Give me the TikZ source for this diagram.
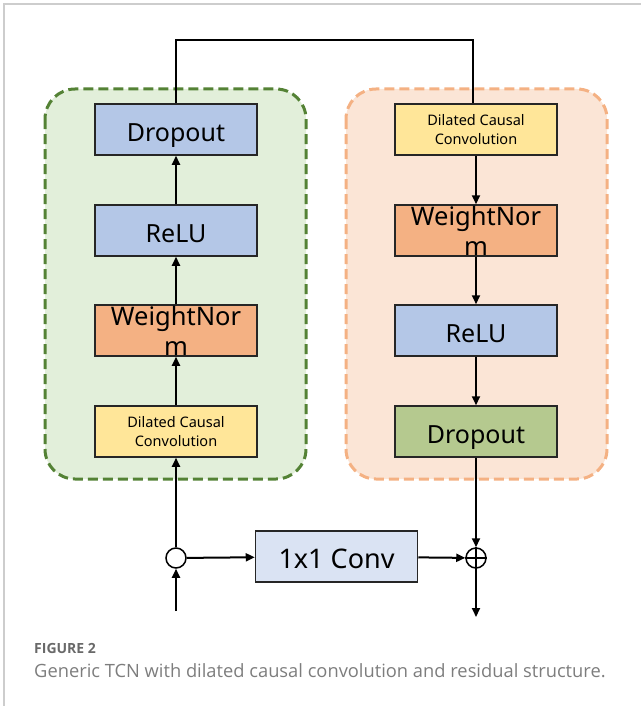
\documentclass[tikz,border=0pt]{standalone}
\usepackage{fontspec}
\setmainfont{Noto Sans}
\newfontfamily\capfont{Open Sans}
\usetikzlibrary{arrows.meta}

\definecolor{bluebox}{RGB}{180,199,231}
\definecolor{orangebox}{RGB}{244,177,131}
\definecolor{yellowbox}{RGB}{255,230,153}
\definecolor{greenbox}{RGB}{181,201,143}
\definecolor{convbox}{RGB}{218,227,243}
\definecolor{greenline}{RGB}{84,130,53}
\definecolor{greenfill}{RGB}{226,239,218}
\definecolor{orangeline}{RGB}{244,177,131}
\definecolor{orangefill}{RGB}{251,229,214}
\definecolor{figgrey}{RGB}{105,105,105}
\definecolor{capgrey}{RGB}{125,125,125}
\definecolor{framegrey}{RGB}{205,205,205}

\begin{document}
\begin{tikzpicture}[x=1pt,y=-1pt,
    layer/.style={rectangle,draw=black!85,line width=1.5pt,minimum width=162pt,minimum height=51pt,inner sep=0pt},
    bigtext/.style={font=\fontsize{25}{30}\selectfont,text height=23pt,text depth=0pt},
    normtext/.style={font=\fontsize{25.5}{30}\selectfont,align=center,anchor=north,inner sep=0pt},
    smalltext/.style={font=\fontsize{14.5}{19}\selectfont,align=center},
    group/.style={rounded corners=30pt,line width=3pt,dash pattern=on 10pt off 5pt},
    wire/.style={line width=2pt},
    arr/.style={wire,-{Triangle[length=9pt,width=8pt]}},
    joint/.style={circle,draw=black,fill=white,line width=1.5pt,minimum size=20pt,inner sep=0pt}]
\useasboundingbox (0,0) rectangle (641,706);

% frame
\draw[framegrey,line width=1.2pt] (4,706) -- (4,4) -- (641,4);

% residual blocks
\draw[group,draw=greenline,fill=greenfill] (45,89) rectangle (306,479);
\draw[group,draw=orangeline,fill=orangefill] (346,89) rectangle (607,479);

% left stack
\node[layer,fill=bluebox,bigtext] (dropL) at (176,129.5) {Dropout};
\node[layer,fill=bluebox,bigtext] (reluL) at (176,230.5) {ReLU};
\node[layer,fill=orangebox] (normL) at (176,330.5) {};
\node[normtext] (normLtxt) at (176,306) {WeightNor\\m};
\node[layer,fill=yellowbox,smalltext] (dilL) at (176,431.5) {Dilated Causal\\Convolution};

% right stack
\node[layer,fill=yellowbox,smalltext] (dilR) at (476,129.5) {Dilated Causal\\Convolution};
\node[layer,fill=orangebox] (normR) at (476,230.5) {};
\node[normtext] (normRtxt) at (476,206) {WeightNor\\m};
\node[layer,fill=bluebox,bigtext] (reluR) at (476,330.5) {ReLU};
\node[layer,fill=greenbox,bigtext] (dropR) at (476,431.5) {Dropout};

% input, 1x1 conv and sum
\node[joint] (split) at (176,558) {};
\node[layer,fill=convbox,font=\fontsize{27}{30}\selectfont,text height=24pt,text depth=0pt] (conv) at (336.5,556.5) {1x1 Conv};
\node[joint] (sum) at (476,558) {};
\draw[line width=1.5pt] (sum.north) -- (sum.south) (sum.west) -- (sum.east);
\coordinate (in) at (176,611);
\coordinate (out) at (476,617);

% connections
\draw[arr] (reluL) -- (dropL);
\draw[arr] (normL) -- (reluL);
\draw[arr] (dilL) -- (normL);
\draw[arr] (split) -- (dilL);
\draw[arr] (in) -- (split);
\draw[wire] (dropL.north) -- (176,40) -| ([xshift=-3pt]dilR.north);
\draw[arr] (dilR) -- (normR);
\draw[arr] (normR) -- (reluR);
\draw[arr] (reluR) -- (dropR);
\draw[arr] (dropR) -- (sum);
\draw[arr] (split) -- (conv);
\draw[arr] (conv) -- (sum);
\draw[arr] (sum) -- (out);

% caption
\node[anchor=base west,inner sep=0pt,text=figgrey,font=\capfont\bfseries\fontsize{14}{16}\selectfont] (fig) at (34,653) {FIGURE 2};
\node[anchor=base west,inner sep=0pt,text=capgrey,font=\capfont\fontsize{18.3}{22}\selectfont] (cap) at (34,677.5) {Generic TCN with dilated causal convolution and residual structure.};
\end{tikzpicture}
\end{document}
